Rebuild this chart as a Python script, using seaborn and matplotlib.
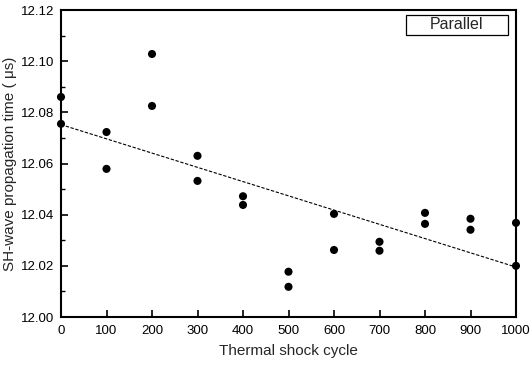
import matplotlib
matplotlib.use("Agg")
import matplotlib.pyplot as plt
import seaborn as sns
import pandas as pd
from matplotlib.ticker import MultipleLocator
from matplotlib.patches import Rectangle

cycles = [0, 0, 100, 100, 200, 200, 300, 300, 400, 400, 500, 500,
          600, 600, 700, 700, 800, 800, 900, 900, 1000, 1000]
times = [12.086, 12.0755, 12.0723, 12.0579, 12.1028, 12.0825, 12.063, 12.0532,
         12.0472, 12.0438, 12.0177, 12.0118, 12.0403, 12.0262, 12.0294, 12.0259,
         12.0407, 12.0364, 12.0384, 12.0341, 12.0368, 12.0200]
xticks = [0, 100, 200, 300, 400, 500, 600, 700, 800, 900, 1000]
yticks = [12.00, 12.02, 12.04, 12.06, 12.08, 12.10, 12.12]

df = pd.DataFrame({"cycle": cycles, "time": times})

sns.set_style("ticks")
plt.rcParams['font.family'] = ['Liberation Sans', 'DejaVu Sans']

fig = plt.figure(figsize=(5.32, 3.65), dpi=100)
ax = fig.add_axes([61/532, 1-317/365, (516-61)/532, (317-10)/365])

sns.regplot(data=df, x="cycle", y="time", ci=None, ax=ax,
            scatter_kws=dict(s=34, color="black", alpha=1, edgecolor="none", clip_on=False, zorder=3),
            line_kws=dict(color="black", lw=0.8, ls=(0, (3, 1.5))),
            truncate=True)

ax.set_xlim(0, 1000)
ax.set_ylim(12.00, 12.12)
ax.set_xticks(xticks)
ax.set_xticklabels([str(v) for v in xticks])
ax.set_yticks(yticks)
ax.set_yticklabels([f"{v:.2f}" for v in yticks])
ax.yaxis.set_minor_locator(MultipleLocator(0.01))
ax.tick_params(which="both", direction="in", color="black", labelsize=9.5, labelcolor="black")
ax.tick_params(which="major", length=5, width=1.2)
ax.tick_params(which="minor", length=3, width=1.0)
ax.tick_params(axis="x", pad=6)
ax.tick_params(axis="y", pad=5)
for s in ax.spines.values():
    s.set_linewidth(1.5)
    s.set_color("black")
    s.set_visible(True)

ax.set_xlabel("Thermal shock cycle", fontsize=11, labelpad=5)
ax.set_ylabel("SH-wave propagation time ( μs)", fontsize=11, labelpad=3)

ax.add_patch(Rectangle((0.758, 0.919), 0.224, 0.065, transform=ax.transAxes,
                       fc="white", ec="black", lw=0.9, zorder=4))
ax.text(0.87, 0.952, "Parallel", transform=ax.transAxes, ha="center", va="center",
        fontsize=11.5, zorder=5)

fig.savefig("out.png", dpi=100)
